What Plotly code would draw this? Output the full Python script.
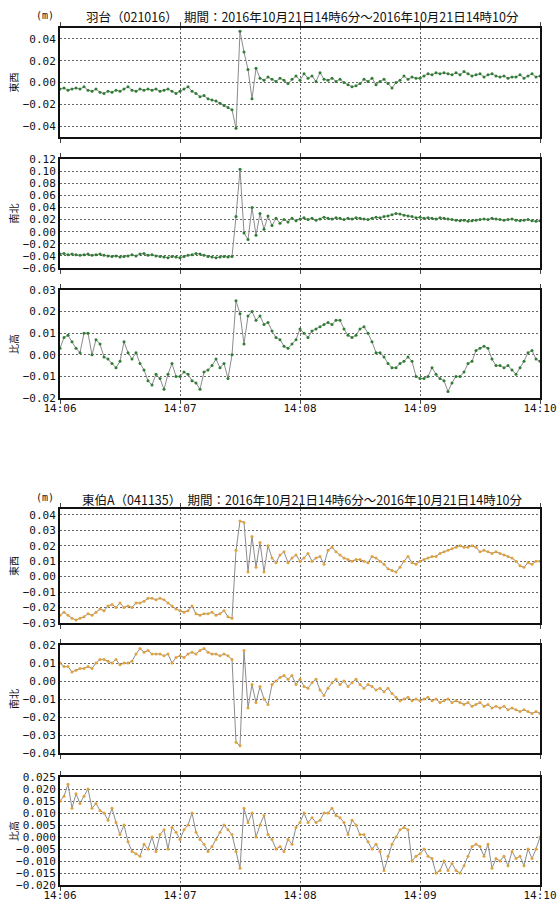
import plotly.graph_objects as go
import pandas as pd

# ---------------- data ----------------
START = "2016-10-21 14:06:00"
END = "2016-10-21 14:10:00"
tick_times = ["2016-10-21 14:06:00", "2016-10-21 14:07:00", "2016-10-21 14:08:00",
              "2016-10-21 14:09:00", "2016-10-21 14:10:00"]
tick_labels = ["14:06", "14:07", "14:08", "14:09", "14:10"]

title1 = "羽台（021016）　期間：2016年10月21日14時6分～2016年10月21日14時10分"
title2 = "東伯A（041135）　期間：2016年10月21日14時6分～2016年10月21日14時10分"
comp_labels = ["東西", "南北", "比高"]

# 羽台 east-west (m)
hadai_ew = [
    -0.006, -0.005, -0.007, -0.006, -0.005, -0.006, -0.004, -0.007, -0.008, -0.006,
    -0.009, -0.010, -0.008, -0.009, -0.007, -0.008, -0.006, -0.004, -0.007, -0.008,
    -0.006, -0.007, -0.006, -0.007, -0.006, -0.008, -0.007, -0.006, -0.008, -0.010,
    -0.008, -0.006, -0.004, -0.008, -0.010, -0.013, -0.012, -0.015, -0.016, -0.017,
    -0.019, -0.021, -0.023, -0.025, -0.042, 0.047, 0.028, 0.012, -0.015, 0.013,
    0.004, 0.002, 0.005, 0.003, 0.001, 0.004, 0.002, -0.001, 0.003, 0.006,
    0.002, 0.008, 0.004, 0.006, 0.001, 0.009, 0.003, 0.002, 0.004, 0.001,
    0.003, 0.000, -0.002, -0.004, -0.003, -0.001, 0.003, 0.001, 0.004, -0.002,
    0.001, 0.003, -0.001, -0.005, 0.000, 0.002, 0.006, 0.003, 0.005, 0.004,
    0.004, 0.006, 0.008, 0.007, 0.009, 0.008, 0.009, 0.008, 0.007, 0.009,
    0.007, 0.010, 0.008, 0.006, 0.007, 0.008, 0.005, 0.007, 0.008, 0.006,
    0.005, 0.006, 0.004, 0.005, 0.005, 0.007, 0.004, 0.006, 0.008, 0.005,
    0.006,
]
# 羽台 north-south (m)
hadai_ns = [
    -0.037, -0.036, -0.038, -0.037, -0.038, -0.039, -0.038, -0.037, -0.039, -0.038,
    -0.037, -0.039, -0.040, -0.041, -0.040, -0.042, -0.041, -0.040, -0.038, -0.040,
    -0.037, -0.036, -0.039, -0.038, -0.040, -0.041, -0.042, -0.043, -0.041, -0.042,
    -0.043, -0.041, -0.039, -0.038, -0.036, -0.037, -0.039, -0.041, -0.042, -0.043,
    -0.042, -0.041, -0.042, -0.041, 0.025, 0.103, -0.002, -0.013, 0.040, -0.006,
    0.030, 0.004, 0.026, 0.010, 0.022, 0.014, 0.020, 0.016, 0.022, 0.018,
    0.021, 0.023, 0.020, 0.022, 0.019, 0.021, 0.024, 0.022, 0.021, 0.023,
    0.022, 0.020, 0.022, 0.021, 0.023, 0.022, 0.021, 0.020, 0.022, 0.024,
    0.023, 0.025, 0.026, 0.028, 0.030, 0.029, 0.027, 0.026, 0.025, 0.023,
    0.024, 0.022, 0.023, 0.022, 0.021, 0.023, 0.022, 0.021, 0.020, 0.019,
    0.018, 0.019, 0.017, 0.018, 0.019, 0.020, 0.021, 0.020, 0.022, 0.021,
    0.020, 0.019, 0.020, 0.021, 0.019, 0.018, 0.019, 0.020, 0.018, 0.017,
    0.018,
]
# 羽台 height (m)
hadai_ud = [
    0.003, 0.008, 0.009, 0.006, 0.003, 0.001, 0.010, 0.010, 0.000, 0.007,
    0.005, -0.001, -0.002, -0.004, -0.006, -0.003, 0.006, 0.001, -0.002, 0.001,
    -0.004, -0.007, -0.012, -0.014, -0.009, -0.011, -0.016, -0.009, -0.004, -0.010,
    -0.010, -0.008, -0.009, -0.012, -0.013, -0.016, -0.008, -0.007, -0.005, -0.002,
    -0.006, -0.004, -0.011, 0.000, 0.025, 0.019, 0.005, 0.018, 0.020, 0.016,
    0.018, 0.014, 0.015, 0.011, 0.008, 0.007, 0.004, 0.003, 0.005, 0.007,
    0.012, 0.010, 0.008, 0.011, 0.012, 0.013, 0.014, 0.015, 0.014, 0.016,
    0.016, 0.012, 0.009, 0.008, 0.009, 0.012, 0.013, 0.010, 0.006, 0.001,
    0.001, -0.001, -0.004, -0.006, -0.006, -0.004, -0.003, -0.001, -0.003, -0.010,
    -0.011, -0.011, -0.010, -0.006, -0.009, -0.011, -0.012, -0.017, -0.013, -0.010,
    -0.010, -0.008, -0.004, -0.003, 0.002, 0.003, 0.004, 0.003, -0.002, -0.005,
    -0.005, -0.006, -0.005, -0.007, -0.009, -0.006, -0.003, 0.001, 0.002, -0.002,
    -0.003,
]
# 東伯A east-west (m)
tohaku_ew = [
    -0.025, -0.023, -0.025, -0.027, -0.028, -0.027, -0.026, -0.024, -0.025, -0.023,
    -0.021, -0.022, -0.019, -0.018, -0.020, -0.017, -0.020, -0.019, -0.020, -0.017,
    -0.017, -0.016, -0.014, -0.014, -0.015, -0.014, -0.015, -0.017, -0.019, -0.021,
    -0.022, -0.023, -0.022, -0.019, -0.024, -0.025, -0.024, -0.024, -0.023, -0.025,
    -0.024, -0.022, -0.026, -0.027, 0.017, 0.036, 0.035, 0.003, 0.026, 0.006,
    0.022, 0.003, 0.020, 0.012, 0.009, 0.014, 0.016, 0.009, 0.012, 0.014,
    0.010, 0.012, 0.015, 0.010, 0.012, 0.013, 0.008, 0.017, 0.019, 0.016,
    0.014, 0.012, 0.011, 0.010, 0.011, 0.011, 0.010, 0.009, 0.013, 0.012,
    0.010, 0.008, 0.005, 0.004, 0.003, 0.006, 0.010, 0.013, 0.009, 0.008,
    0.010, 0.011, 0.012, 0.013, 0.013, 0.015, 0.016, 0.017, 0.018, 0.019,
    0.020, 0.019, 0.019, 0.020, 0.019, 0.016, 0.017, 0.016, 0.015, 0.016,
    0.015, 0.014, 0.013, 0.012, 0.010, 0.007, 0.006, 0.009, 0.008, 0.010,
    0.010,
]
# 東伯A north-south (m)
tohaku_ns = [
    0.010, 0.008, 0.008, 0.005, 0.006, 0.007, 0.007, 0.008, 0.007, 0.010,
    0.012, 0.012, 0.011, 0.010, 0.012, 0.009, 0.010, 0.010, 0.011, 0.015,
    0.018, 0.016, 0.017, 0.015, 0.015, 0.015, 0.014, 0.015, 0.010, 0.013,
    0.014, 0.013, 0.015, 0.016, 0.015, 0.017, 0.018, 0.016, 0.015, 0.015,
    0.014, 0.015, 0.014, 0.012, -0.034, -0.036, 0.017, -0.015, -0.002, -0.012,
    -0.003, -0.010, -0.013, -0.002, 0.000, 0.002, 0.003, 0.001, 0.003, -0.002,
    0.001, -0.003, -0.004, -0.001, 0.001, -0.005, -0.008, -0.004, -0.001, 0.001,
    -0.002, 0.000, -0.003, -0.001, 0.001, -0.002, -0.004, -0.002, -0.003, -0.005,
    -0.004, -0.006, -0.004, -0.007, -0.009, -0.011, -0.010, -0.009, -0.011, -0.010,
    -0.011, -0.010, -0.009, -0.011, -0.010, -0.012, -0.011, -0.010, -0.012, -0.011,
    -0.012, -0.013, -0.012, -0.014, -0.013, -0.012, -0.014, -0.013, -0.015, -0.014,
    -0.015, -0.014, -0.016, -0.015, -0.016, -0.017, -0.016, -0.017, -0.018, -0.017,
    -0.018,
]
# 東伯A height (m)
tohaku_ud = [
    0.015, 0.017, 0.022, 0.012, 0.018, 0.014, 0.017, 0.020, 0.012, 0.014,
    0.011, 0.010, 0.007, 0.012, 0.006, 0.001, 0.005, -0.002, -0.006, -0.007,
    -0.008, -0.003, -0.005, 0.000, -0.006, 0.001, 0.003, -0.005, 0.004, 0.002,
    -0.001, 0.003, 0.005, 0.010, 0.002, -0.001, -0.003, -0.006, -0.004, -0.001,
    0.002, 0.005, 0.003, 0.001, -0.006, -0.013, 0.012, 0.006, 0.010, 0.000,
    0.005, 0.009, 0.001, -0.001, -0.005, -0.004, -0.006, -0.001, -0.003, 0.004,
    0.006, 0.010, 0.006, 0.008, 0.006, 0.007, 0.010, 0.010, 0.012, 0.009,
    0.008, 0.006, 0.001, 0.007, 0.005, 0.001, 0.001, -0.002, -0.005, -0.003,
    -0.006, -0.014, -0.008, -0.003, 0.000, 0.003, 0.004, 0.003, -0.010, -0.008,
    -0.007, -0.005, -0.008, -0.009, -0.015, -0.014, -0.010, -0.014, -0.011, -0.014,
    -0.015, -0.012, -0.008, -0.004, -0.003, -0.004, -0.008, -0.003, -0.013, -0.009,
    -0.010, -0.008, -0.012, -0.006, -0.009, -0.008, -0.012, -0.005, -0.009, -0.005,
    0.000,
]

# ---------------- layout constants ----------------
W, H = 558, 905
PL, PR = 60, 540
GREEN = "#2f7d32"
ORANGE = "#e3a13a"
LINE_GREY = "#8c8c8c"
MONO = "DejaVu Sans Mono"
CJK = "Noto Sans CJK JP"
GRID = dict(showgrid=True, gridcolor="#666", griddash="2px,2px", gridwidth=1)

panels = [
    dict(vals=hadai_ew, lab=comp_labels[0], rng=[-0.05, 0.05], tv=[-0.04, -0.02, 0.0, 0.02, 0.04],
         fmt=".2f", col=GREEN, top=28, bot=137, xl=False),
    dict(vals=hadai_ns, lab=comp_labels[1], rng=[-0.06, 0.12],
         tv=[-0.06, -0.04, -0.02, 0.0, 0.02, 0.04, 0.06, 0.08, 0.10, 0.12],
         fmt=".2f", col=GREEN, top=159, bot=268, xl=False),
    dict(vals=hadai_ud, lab=comp_labels[2], rng=[-0.02, 0.03], tv=[-0.02, -0.01, 0.0, 0.01, 0.02, 0.03],
         fmt=".2f", col=GREEN, top=290, bot=398, xl=True),
    dict(vals=tohaku_ew, lab=comp_labels[0], rng=[-0.03, 0.0437],
         tv=[-0.03, -0.02, -0.01, 0.0, 0.01, 0.02, 0.03, 0.04],
         fmt=".2f", col=ORANGE, top=509, bot=623, xl=False),
    dict(vals=tohaku_ns, lab=comp_labels[1], rng=[-0.04, 0.02],
         tv=[-0.04, -0.03, -0.02, -0.01, 0.0, 0.01, 0.02],
         fmt=".2f", col=ORANGE, top=645, bot=753, xl=False),
    dict(vals=tohaku_ud, lab=comp_labels[2], rng=[-0.02, 0.025],
         tv=[-0.02, -0.015, -0.01, -0.005, 0.0, 0.005, 0.01, 0.015, 0.02, 0.025],
         fmt=".3f", col=ORANGE, top=777, bot=885, xl=True),
]

fig = go.Figure()
layout = dict(
    width=W, height=H,
    margin=dict(l=PL, r=W - PR, t=0, b=0, autoexpand=False),
    paper_bgcolor="white", plot_bgcolor="white",
    showlegend=False,
    annotations=[],
)


def py(px):
    return (H - px) / H


def pxx(px):
    return (px - PL) / (PR - PL)


for k, p in enumerate(panels):
    n = k + 1
    xa = "x" if n == 1 else f"x{n}"
    ya = "y" if n == 1 else f"y{n}"
    times = pd.date_range(START, periods=len(p["vals"]), freq="2s")
    fig.add_trace(go.Scatter(
        x=times, y=p["vals"], xaxis=xa, yaxis=ya, mode="lines+markers",
        line=dict(color=LINE_GREY, width=1),
        marker=dict(color=p["col"], size=3),
        hoverinfo="skip",
    ))
    xkey = "xaxis" if n == 1 else f"xaxis{n}"
    ykey = "yaxis" if n == 1 else f"yaxis{n}"
    layout[xkey] = dict(
        domain=[0, 1], anchor=ya, type="date", range=[START, END],
        tickvals=tick_times, ticktext=tick_labels, showticklabels=p["xl"],
        tickfont=dict(family=MONO, size=11, color="#111"),
        ticks="outside", ticklen=4, tickcolor="#444", ticklabelstandoff=-5,
        showline=True, linecolor="#111", linewidth=2, mirror="ticks",
        zeroline=False, automargin=False, fixedrange=True, **GRID,
    )
    layout[ykey] = dict(
        domain=[py(p["bot"]), py(p["top"])], anchor=xa, range=p["rng"],
        tickvals=p["tv"], tickformat=p["fmt"],
        tickfont=dict(family=MONO, size=11, color="#111"),
        ticks="", showline=True, linecolor="#111", linewidth=2, mirror=True,
        zeroline=False, automargin=False, fixedrange=True, **GRID,
    )
    layout["annotations"].append(dict(
        text=p["lab"], xref="paper", yref="paper", x=pxx(13), y=py((p["top"] + p["bot"]) / 2),
        xanchor="center", yanchor="middle", textangle=-90, showarrow=False,
        font=dict(family=CJK, size=10, color="#111"),
    ))

for ttl, ym, yt in [(title1, 16, 17), (title2, 497, 500)]:
    layout["annotations"].append(dict(
        text="(m)", xref="paper", yref="paper", x=pxx(45), y=py(ym),
        xanchor="center", yanchor="middle", showarrow=False,
        font=dict(family=MONO, size=10, color="#111"),
    ))
    layout["annotations"].append(dict(
        text=ttl, xref="paper", yref="paper", x=pxx(302), y=py(yt),
        xanchor="center", yanchor="middle", showarrow=False,
        font=dict(family=CJK, size=12.5, color="#111"),
    ))

fig.update_layout(**layout)
fig.write_html("out.html", config={"displayModeBar": False},
               post_script="document.body.style.margin='0';")
